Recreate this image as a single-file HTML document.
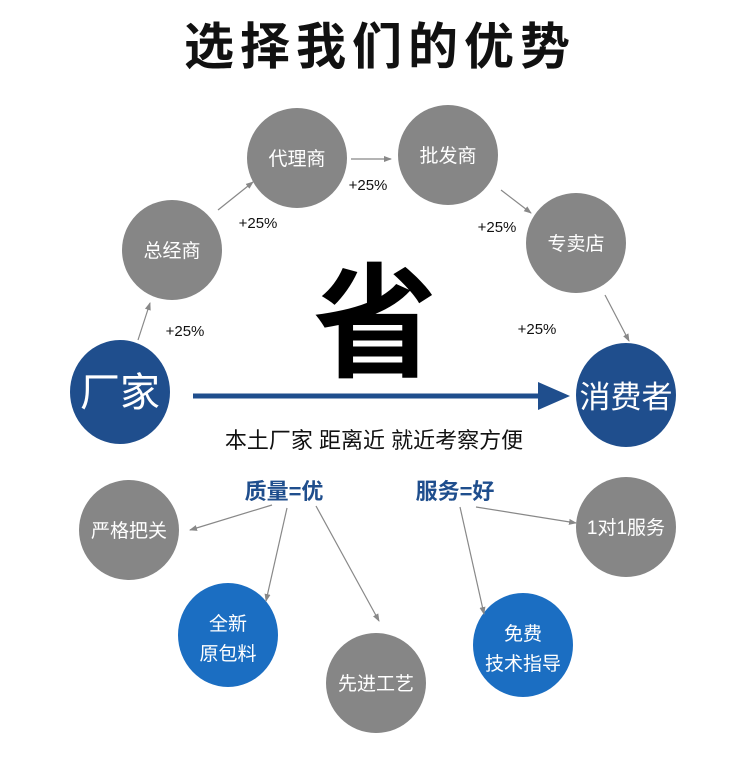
<!DOCTYPE html>
<html><head><meta charset="utf-8"><style>
body{margin:0;background:#fff;}
svg text{font-family:"Liberation Sans","Noto Sans CJK SC",sans-serif;}
</style></head><body>
<svg width="750" height="774" viewBox="0 0 750 774" xmlns="http://www.w3.org/2000/svg">
<defs>
<marker id="a" markerWidth="8" markerHeight="8" refX="7" refY="4" orient="auto" markerUnits="userSpaceOnUse"><path d="M0,1 L8,4 L0,7 z" fill="#888"/></marker>
</defs>
<rect width="750" height="774" fill="#fff"/>
<text x="380" y="64" font-size="50" font-weight="bold" text-anchor="middle" fill="#111" letter-spacing="6">选择我们的优势</text>
<g fill="#868686">
<ellipse cx="172" cy="250" rx="50" ry="50"/>
<ellipse cx="297" cy="158" rx="50" ry="50"/>
<ellipse cx="448" cy="155" rx="50" ry="50"/>
<ellipse cx="576" cy="243" rx="50" ry="50"/>
<ellipse cx="129" cy="530" rx="50" ry="50"/>
<ellipse cx="376" cy="683" rx="50" ry="50"/>
<ellipse cx="626" cy="527" rx="50" ry="50"/>
</g>
<g fill="#1f4e8d">
<ellipse cx="120" cy="392" rx="50" ry="52"/>
<ellipse cx="626" cy="395" rx="50" ry="52"/>
</g>
<g fill="#1b6ec2">
<ellipse cx="228" cy="635" rx="50" ry="52"/>
<ellipse cx="523" cy="645" rx="50" ry="52"/>
</g>
<g stroke="#888" stroke-width="1.2" marker-end="url(#a)">
<line x1="138" y1="340" x2="150" y2="303"/>
<line x1="218" y1="210" x2="253" y2="182"/>
<line x1="351" y1="159" x2="391" y2="159"/>
<line x1="501" y1="190" x2="531" y2="213"/>
<line x1="605" y1="295" x2="629" y2="341"/>
<line x1="272" y1="505" x2="190" y2="530"/>
<line x1="287" y1="508" x2="266" y2="601"/>
<line x1="316" y1="506" x2="379" y2="621"/>
<line x1="460" y1="507" x2="484" y2="614"/>
<line x1="476" y1="507" x2="576" y2="523"/>
</g>
<line x1="193" y1="396" x2="540" y2="396" stroke="#1f4e8d" stroke-width="5"/>
<path d="M538,382 L570,396 L538,410 z" fill="#1f4e8d"/>
<text x="375" y="367" font-size="124" font-weight="bold" text-anchor="middle" fill="#000">省</text>
<text x="374" y="448" font-size="22" text-anchor="middle" fill="#111">本土厂家 距离近 就近考察方便</text>
<g font-size="15" fill="#111" text-anchor="middle">
<text x="185" y="336">+25%</text>
<text x="258" y="228">+25%</text>
<text x="368" y="190">+25%</text>
<text x="497" y="232">+25%</text>
<text x="537" y="334">+25%</text>
</g>
<g font-size="19" fill="#fff" text-anchor="middle">
<text x="172" y="257">总经商</text>
<text x="297" y="165">代理商</text>
<text x="448" y="162">批发商</text>
<text x="576" y="250">专卖店</text>
<text x="129" y="537">严格把关</text>
<text x="376" y="690">先进工艺</text>
<text x="626" y="534">1对1服务</text>
<text x="228" y="630">全新</text>
<text x="228" y="660">原包料</text>
<text x="523" y="640">免费</text>
<text x="523" y="670">技术指导</text>
</g>
<text x="120" y="406" font-size="40" fill="#fff" text-anchor="middle">厂家</text>
<text x="626" y="408" font-size="31" fill="#fff" text-anchor="middle">消费者</text>
<g font-size="22" font-weight="bold" fill="#1f4e8d" text-anchor="middle">
<text x="284" y="499">质量=优</text>
<text x="455" y="499">服务=好</text>
</g>
</svg>
</body></html>
